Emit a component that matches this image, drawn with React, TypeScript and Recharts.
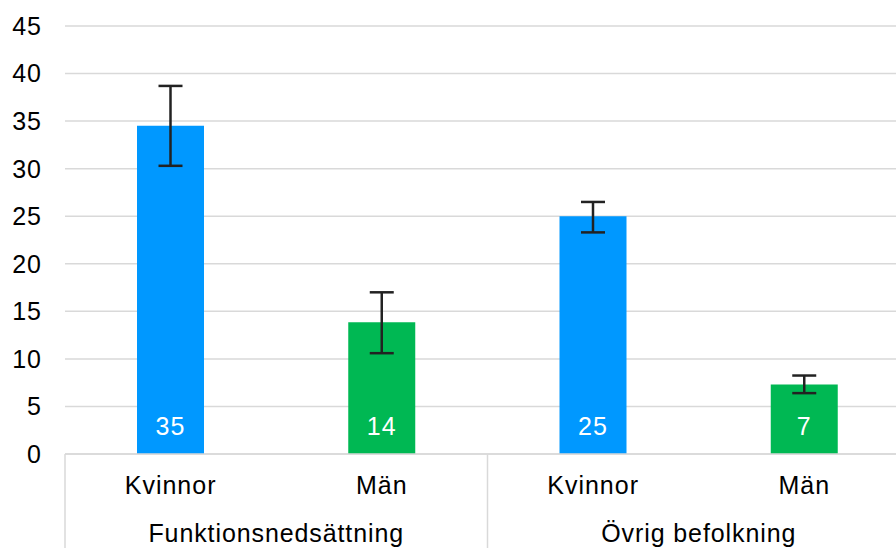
import { BarChart, Bar, XAxis, YAxis, CartesianGrid, Cell, ErrorBar, LabelList } from 'recharts'

const sexes = ['Kvinnor', 'Män', 'Kvinnor', 'Män']
const groups = ['Funktionsnedsättning', 'Övrig befolkning']
const values = [34.5, 13.85, 25.0, 7.3]
const errLow = [4.2, 3.25, 1.7, 0.9]
const errHigh = [4.2, 3.15, 1.5, 0.95]
const barColors = ['#0098FF', '#00B853', '#0098FF', '#00B853']
const yTicks = [0, 5, 10, 15, 20, 25, 30, 35, 40, 45]

const CHART_W = 910
const CHART_H = 548
const Y_W = 65
const X_H = 94
const BAND = (CHART_W - Y_W) / sexes.length

const data = sexes.map((s, i) => ({
  id: `c${i}`,
  sex: s,
  value: values[i],
  err: [errLow[i], errHigh[i]],
}))

const FONT = '"Liberation Sans", Arial, sans-serif'

// two-level category axis: sex label, group label every second tick, dividers
function CategoryTick(props: any) {
  const { x, y, index } = props
  const showGroup = index % 2 === 0
  return (
    <g>
      <text x={x} y={y + 40} textAnchor="middle" fontSize={25} letterSpacing={1} fill="#000" fontFamily={FONT}>
        {sexes[index]}
      </text>
      {showGroup && (
        <>
          <line x1={x - BAND / 2} y1={y} x2={x - BAND / 2} y2={y + X_H} stroke="#d9d9d9" strokeWidth={1.5} />
          <text x={x + BAND / 2} y={y + 88} textAnchor="middle" fontSize={25} letterSpacing={0.9} fill="#000" fontFamily={FONT}>
            {groups[index / 2]}
          </text>
        </>
      )}
    </g>
  )
}

function BottomLabel(props: any) {
  const { x, y, width, height, value } = props
  return (
    <text x={x + width / 2} y={y + height - 19} textAnchor="middle" fontSize={25} letterSpacing={1} fill="#fff" fontFamily={FONT}>
      {Math.round(value)}
    </text>
  )
}

export default function App() {
  return (
    <div style={{ position: 'absolute', left: 0, top: 0, width: 896, height: 548, overflow: 'hidden', background: '#fff' }}>
      <BarChart width={CHART_W} height={CHART_H} data={data} margin={{ top: 26, right: 0, left: 0, bottom: 0 }}>
        <CartesianGrid vertical={false} stroke="#d9d9d9" strokeWidth={1.5} />
        <XAxis
          dataKey="id"
          height={X_H}
          axisLine={{ stroke: '#d9d9d9', strokeWidth: 1.5 }}
          tickLine={false}
          tickSize={0}
          tickMargin={0}
          interval={0}
          tick={<CategoryTick />}
        />
        <YAxis
          width={Y_W}
          domain={[0, 45]}
          ticks={yTicks}
          axisLine={false}
          tickLine={false}
          tickSize={0}
          tickMargin={23}
          tick={{ fontSize: 25, fill: '#000', fontFamily: FONT, letterSpacing: 1 }}
        />
        <Bar dataKey="value" barSize={67} isAnimationActive={false}>
          {data.map((d, i) => (
            <Cell key={d.id} fill={barColors[i]} />
          ))}
          <LabelList dataKey="value" content={<BottomLabel />} />
          <ErrorBar dataKey="err" width={12} strokeWidth={2.5} stroke="#222" />
        </Bar>
      </BarChart>
    </div>
  )
}
